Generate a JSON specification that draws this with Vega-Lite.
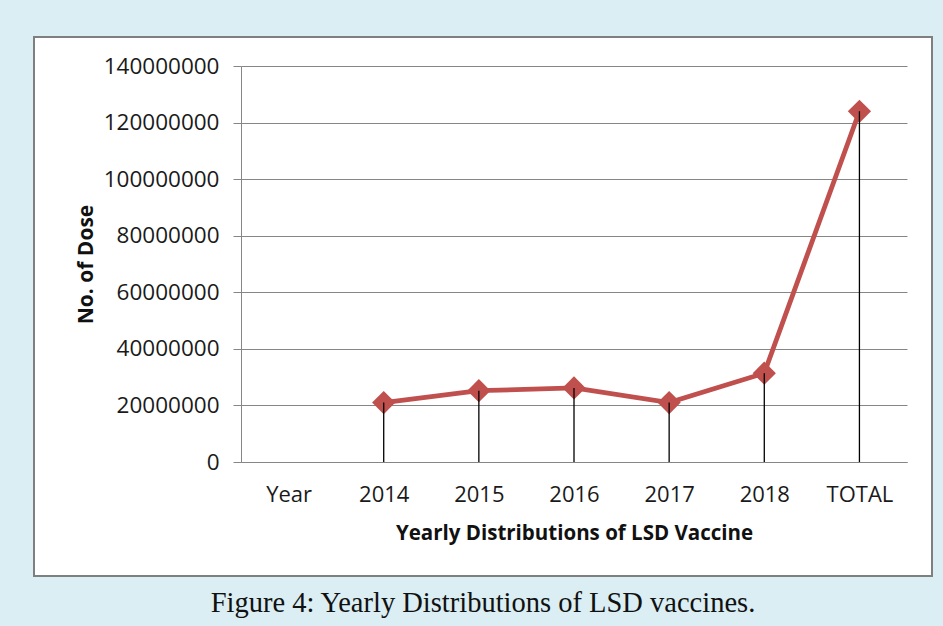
{
  "$schema": "https://vega.github.io/schema/vega-lite/v6.json",
  "width": 898,
  "height": 539,
  "autosize": {"type": "none"},
  "padding": {"left": 34, "top": 37, "right": 11, "bottom": 50},
  "background": "#daeef3",
  "title": {
    "text": "Figure 4: Yearly Distributions of LSD vaccines.",
    "orient": "bottom",
    "anchor": "middle",
    "font": "Liberation Serif",
    "fontSize": 28.5,
    "fontWeight": "normal",
    "color": "#111111",
    "offset": 13
  },
  "config": {
    "view": {"fill": "white", "stroke": "#7f7f7f", "strokeWidth": 2}
  },
  "data": {
    "values": [
      {"year": "2014", "doses": 21000000},
      {"year": "2015", "doses": 25200000},
      {"year": "2016", "doses": 26200000},
      {"year": "2017", "doses": 21000000},
      {"year": "2018", "doses": 31400000},
      {"year": "TOTAL", "doses": 124000000}
    ]
  },
  "encoding": {
    "x": {
      "field": "year",
      "type": "nominal",
      "sort": null,
      "scale": {
        "type": "point",
        "domain": ["Year", "2014", "2015", "2016", "2017", "2018", "TOTAL"],
        "range": [207, 873],
        "padding": 0.5
      },
      "axis": {
        "title": "Yearly Distributions of LSD Vaccine",
        "titleFont": "Open Sans",
        "titleFontSize": 20.5,
        "titleFontWeight": "bold",
        "titleColor": "#111111",
        "titlePadding": 18,
        "labelFont": "Open Sans",
        "labelFontSize": 22,
        "labelColor": "#1a1a1a",
        "labelAngle": 0,
        "labelPadding": 22,
        "ticks": false,
        "tickSize": 0,
        "grid": false,
        "domainColor": "#868686",
        "domainWidth": 1,
        "offset": -114
      }
    },
    "y": {
      "field": "doses",
      "type": "quantitative",
      "scale": {"domain": [0, 140000000], "range": [425, 29], "nice": false, "zero": true},
      "axis": {
        "title": "No. of Dose",
        "titleFont": "Open Sans",
        "titleFontSize": 21,
        "titleFontWeight": "bold",
        "titleColor": "#111111",
        "titlePadding": 7,
        "values": [0, 20000000, 40000000, 60000000, 80000000, 100000000, 120000000, 140000000],
        "format": "d",
        "labelFont": "Open Sans",
        "labelFontSize": 22.5,
        "labelColor": "#1a1a1a",
        "labelPadding": 14,
        "tickSize": 8,
        "tickColor": "#868686",
        "domainColor": "#868686",
        "grid": true,
        "gridColor": "#868686",
        "gridWidth": 1,
        "offset": -207
      }
    }
  },
  "layer": [
    {"mark": {"type": "line", "color": "#c0504d", "strokeWidth": 4.8}},
    {"mark": {"type": "point", "shape": "diamond", "filled": true, "size": 540, "color": "#c0504d", "opacity": 1}},
    {
      "mark": {"type": "rule", "color": "#000000", "strokeWidth": 1.3},
      "encoding": {"y2": {"datum": 0}}
    }
  ]
}
